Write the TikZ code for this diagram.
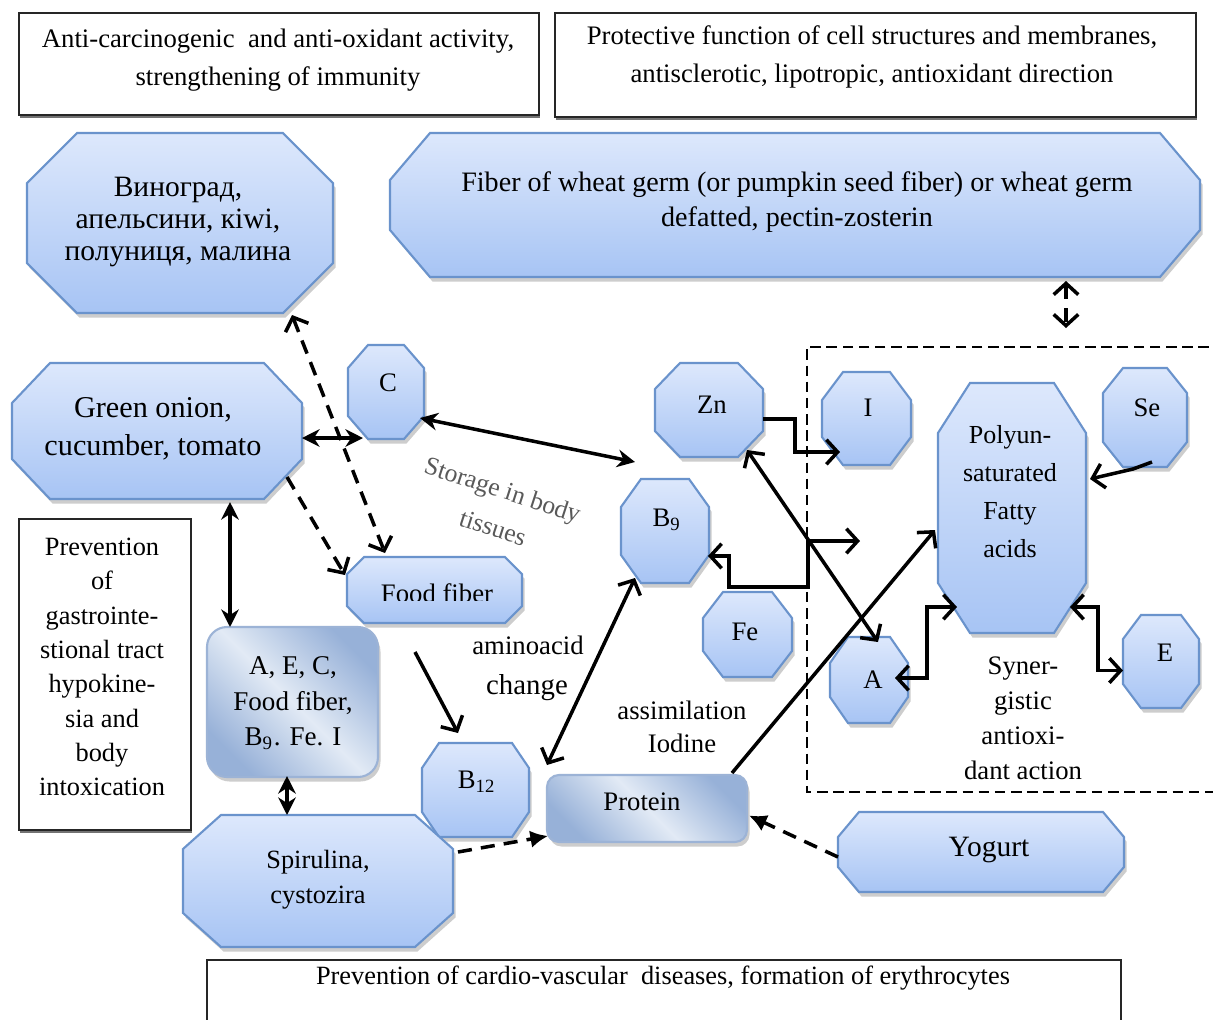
\documentclass[tikz,border=0pt]{standalone}
\usepackage{fontspec}
\setmainfont{Liberation Serif}
\usetikzlibrary{arrows.meta,calc,fit}
\pgfdeclarelayer{bg}
\pgfsetlayers{bg,main}
\definecolor{octtop}{HTML}{DDE8FC}
\definecolor{octbot}{HTML}{A7C4F4}
\definecolor{octline}{HTML}{6A93CC}
\definecolor{rin}{HTML}{E2EAF5}
\definecolor{rout}{HTML}{97B1D8}
\definecolor{rline}{HTML}{9CB3D6}
\newcommand\fs{\fontsize{7.6}{9.5}\selectfont}
\newcommand\octpath[3]{($(#1.north west)+(#2,0)$) -- ($(#1.north east)+(-#2,0)$) -- ($(#1.north east)+(0,#3)$) -- ($(#1.south east)+(0,-#3)$) -- ($(#1.south east)+(-#2,0)$) -- ($(#1.south west)+(#2,0)$) -- ($(#1.south west)+(0,-#3)$) -- ($(#1.north west)+(0,#3)$) -- cycle}
\newcommand\octo[7]{%
  \node[inner sep=0pt,outer sep=0pt,fit={(#2,#3)(#4,#5)}] (#1) {};
  \begin{pgfonlayer}{bg}
    \fill[black!28,opacity=.7,transform canvas={shift={(0.25mm,-0.45mm)}}] \octpath{#1}{#6}{#7};
    \shade[top color=octtop,bottom color=octbot,draw=octline,line width=.6pt] \octpath{#1}{#6}{#7};
  \end{pgfonlayer}}
\newcommand\rbox[6]{%
  \node[inner sep=0pt,outer sep=0pt,fit={(#2,#3)(#4,#5)}] (#1) {};
  \begin{pgfonlayer}{bg}
    \fill[black!28,opacity=.7,rounded corners=#6,transform canvas={shift={(0.25mm,-0.45mm)}}] (#1.north west) rectangle (#1.south east);
    \shade[left color=rout,right color=rout,middle color=rin,shading angle=-45,draw=rline,line width=.6pt,rounded corners=#6] (#1.north west) rectangle (#1.south east);
  \end{pgfonlayer}}
\newcommand\pbox[5]{%
  \node[inner sep=0pt,outer sep=0pt,fit={(#2,#3)(#4,#5)},draw=black!85,line width=.7pt,fill=white] (#1) {};
  \begin{pgfonlayer}{bg}
    \fill[black!55,transform canvas={shift={(0.1mm,-0.25mm)}}] (#1.north west) rectangle (#1.south east);
  \end{pgfonlayer}}
\begin{document}
\begin{tikzpicture}[x=0.1mm,y=-0.1mm,
  con/.style={line width=1pt},
  bar/.style={con,-{Straight Barb[length=3.2pt,width=7pt]}},
  dbar/.style={con,{Straight Barb[length=3.2pt,width=7pt]}-{Straight Barb[length=3.2pt,width=7pt]}},
  dst/.style={con,{Stealth[length=5pt,width=5pt]}-{Stealth[length=5pt,width=5pt]}},
  dsh/.style={dash pattern=on 4pt off 2.6pt},
  txt/.style={inner sep=0pt,align=center,font=\fs}]
\useasboundingbox (0,0) rectangle (1213,1020);
\begin{pgfonlayer}{bg}
  \fill[white] (0,0) rectangle (1213,1020);
\end{pgfonlayer}

% plain boxes
\pbox{TL}{19}{13}{539}{115}
\pbox{TR}{555}{13}{1196}{117}
\pbox{Prev}{19}{519}{191}{830}
\pbox{Bot}{207}{960}{1121}{1035}

% octagons
\octo{Vin}{27}{133}{333}{313}{50}{50}
\octo{Fiber}{390}{133}{1200}{277}{40}{47}
\octo{Green}{12}{363}{302}{499}{38}{40}
\octo{C}{348}{345}{424}{439}{20}{23}
\octo{Zn}{655}{363}{763}{457}{25}{26}
\octo{I}{822}{372}{911}{465}{21}{28}
\octo{PUFA}{938}{383}{1086}{633}{32}{50}
\octo{Se}{1103}{368}{1187}{467}{20}{25}
\octo{Bnine}{621}{479}{709}{583}{20}{28}
\octo{Fe}{703}{592}{792}{677}{20}{26}
\octo{A}{830}{637}{908}{723}{18}{26}
\octo{E}{1123}{615}{1199}{708}{18}{24}
\octo{Food}{347}{557}{522}{623}{17}{17}
\octo{Btw}{422}{743}{529}{837}{17}{25}
\octo{Spir}{183}{815}{453}{947}{38}{34}
\octo{Yog}{838}{812}{1124}{892}{21}{25}
\rbox{AEC}{207}{627}{378}{777}{2mm}
\rbox{Prot}{547}{775}{747}{842}{1.2mm}

% dashed region
\draw[line width=.6pt,dash pattern=on 3pt off 1.6pt] (1225,347) -- (807,347) -- (807,792) -- (1225,792);

% texts
\node[txt,font=\fontsize{7.6}{10.8}\selectfont] (TLt) at (278,60) {Anti-carcinogenic\ \ and anti-oxidant activity,\\strengthening of immunity};
\node[txt,font=\fontsize{7.6}{10.8}\selectfont] (TRt) at (872,57) {Protective function of cell structures and membranes,\\antisclerotic, lipotropic, antioxidant direction};
\node[txt,font=\fontsize{8.4}{9.2}\selectfont] (Vint) at (178,222) {Виноград,\\апельсини, кiwi,\\полуниця, малина};
\node[txt,font=\fontsize{8}{10}\selectfont] (Fibert) at (797,202) {Fiber of wheat germ (or pumpkin seed fiber) or wheat germ\\defatted, pectin-zosterin};
\node[txt,font=\fontsize{8.6}{10.8}\selectfont] (Greent) at (153,429) {Green onion,\\cucumber, tomato};
\node[txt] (Ct) at (388,383) {C};
\node[txt] (Znt) at (712,405) {Zn};
\node[txt] (It) at (868,408) {I};
\node[txt] (Set) at (1147,408) {Se};
\node[txt] (Bninet) at (667,520) {B\textsubscript{9}};
\node[txt] (Fet) at (745,632) {Fe};
\node[txt] (At) at (873,680) {A};
\node[txt] (Et) at (1165,653) {E};
\node[txt] (Btwt) at (477,782) {B\textsubscript{12}};
\node[txt,font=\fontsize{7.4}{10.8}\selectfont] (PUFAt) at (1010,492) {Polyun-\\saturated\\Fatty\\acids};
\node[txt,font=\fontsize{7.6}{10}\selectfont] (Synt) at (1023,718) {Syner-\\gistic\\antioxi-\\dant action};
\begin{scope}
  \clip (347,557) rectangle (522,600);
  \node[txt,anchor=base] (Foodt) at (437,602) {Food fiber};
\end{scope}
\node[txt,font=\fontsize{7.7}{10.2}\selectfont] (AECt) at (293,703) {A, E, C,\\Food fiber,\\B\textsubscript{9}. Fe. I};
\node[txt,font=\fontsize{7.5}{9.75}\selectfont] (Prevt) at (102,667) {Prevention\\of\\gastrointe-\\stional tract\\hypokine-\\sia and\\body\\intoxication};
\node[txt,font=\fontsize{7.5}{10}\selectfont] (Spirt) at (318,880) {Spirulina,\\cystozira};
\node[txt] (Prott) at (642,802) {Protein};
\node[txt,font=\fontsize{8.4}{10}\selectfont] (Yogt) at (989,850) {Yogurt};
\node[txt,font=\fontsize{7.5}{10}\selectfont] (Bott) at (663,978) {Prevention of cardio-vascular\ \ diseases, formation of erythrocytes};
\node[txt,font=\fontsize{7.3}{9}\selectfont,text=black!65,rotate=-18] (Stor) at (502,492) {Storage in body};
\node[txt,font=\fontsize{7.3}{9}\selectfont,text=black!65,rotate=-18] (Stortwo) at (493,528) {tissues};
\node[txt] (amino) at (528,645) {aminoacid};
\node[txt,font=\fontsize{8.2}{10}\selectfont] (chg) at (527,688) {change};
\node[txt] (assim) at (682,710) {assimilation};
\node[txt] (iod) at (682,743) {Iodine};

% connectors
\draw[dst] ($(Green.east)+(0,7)$) -- ($(C.south west)+(15,-1)$);
\draw[dst] ($(C.south east)+(-4,-21)$) -- ($(Bnine.north west)+(14,-17)$);
\draw[dbar,dsh] ($(Vin.south east)+(-41,2)$) -- ($(Food.north west)+(38,-4)$);
\draw[bar,dsh] ($(Green.south east)+(-15,-22)$) -- ($(Food.north west)+(-2,18)$);
\draw[dst] ($(Green.south west)+(218,3)$) -- ($(AEC.north west)+(23,0)$);
\draw[dst] ($(AEC.south west)+(80,-1)$) -- ($(Spir.north west)+(104,0)$);
\draw[bar] ($(Food.south west)+(68,29)$) -- ($(Btw.north west)+(36,-10)$);
\draw[dbar] ($(Prot.north west)+(0,-10)$) -- ($(Bnine.south west)+(14,-5)$);
\draw[con,dsh,-{Latex[length=5pt,width=5pt]}] ($(Spir.north east)+(5,37)$) -- ($(Prot.south west)+(1,-6)$);
\draw[con,dsh,-{Latex[length=5pt,width=5pt]}] ($(Yog.west)+(0,5)$) -- ($(Prot.east)+(2,7)$);
\draw[bar] ($(Prot.north east)+(-15,-2)$) -- ($(PUFA.west)+(-3,22)$);
\draw[dbar] ($(Zn.south east)+(-16,-7)$) -- ($(A.north west)+(48,5)$);
\draw[bar] ($(Zn.east)+(0,9)$) -- ++(32,0) |- ($(I.south west)+(18,-13)$);
\coordinate (fx) at (860,541);
\draw[dbar] ($(Bnine.east)+(-1,25)$) -- ++(21,0) -- ++(0,31) -- ++(79,0) |- (fx);
\draw[dbar] ($(A.east)+(-13,-2)$) -- ++(32,0) |- ($(PUFA.south west)+(19,-26)$);
\draw[dbar] ($(PUFA.south east)+(-16,-26)$) -- ++(28,0) |- ($(E.west)+(0,9)$);
\draw[bar] ($(Se.south)+(7,-5)$) -- ++(-19,7) -- ($(PUFA.east)+(4,-29)$);
\coordinate (dtop) at (1066,328);
\draw[dbar,dsh] ($(Fiber.south west)+(676,4)$) -- (dtop);
\end{tikzpicture}
\end{document}
